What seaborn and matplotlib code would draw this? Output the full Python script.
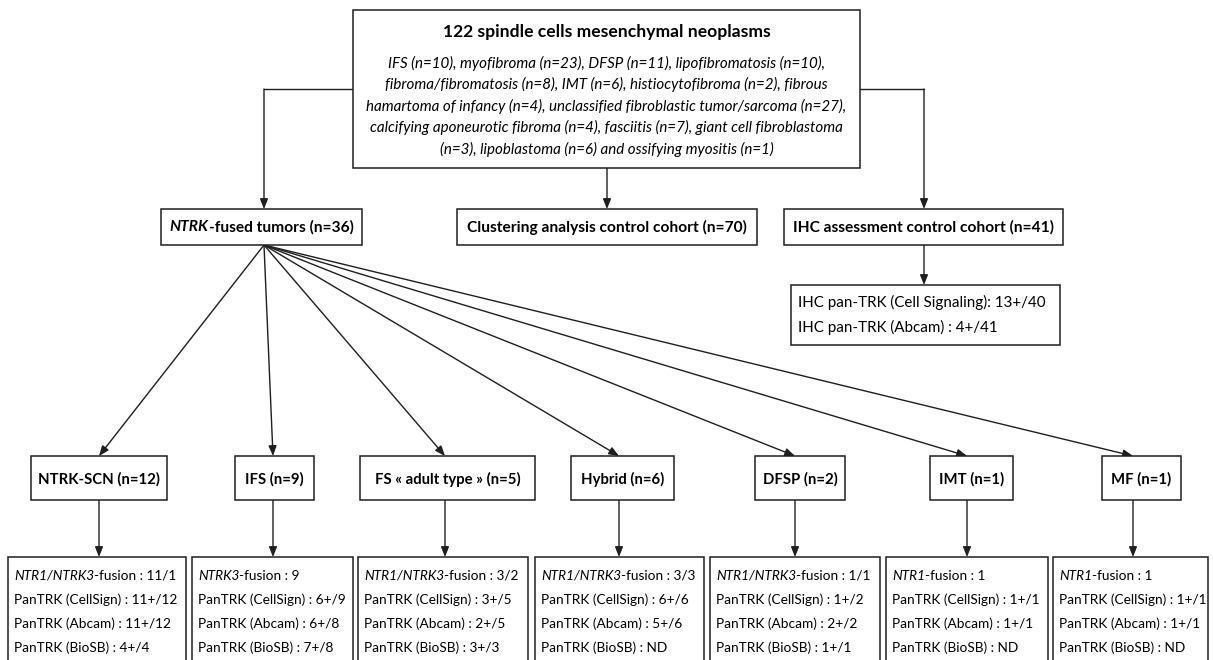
import textwrap
import matplotlib
matplotlib.use("Agg")
import matplotlib.pyplot as plt
from matplotlib.patches import Rectangle
import pandas as pd
import seaborn as sns

# ---- data ----
total_cases = 122
subtype_names = ["IFS", "myofibroma", "DFSP", "lipofibromatosis", "fibroma/fibromatosis",
                 "IMT", "histiocytofibroma", "fibrous hamartoma of infancy",
                 "unclassified fibroblastic tumor/sarcoma", "calcifying aponeurotic fibroma",
                 "fasciitis", "giant cell fibroblastoma", "lipoblastoma", "ossifying myositis"]
subtype_counts = [10, 23, 11, 10, 8, 6, 2, 4, 27, 4, 7, 3, 6, 1]

cohort_labels = ["-fused tumors", "Clustering analysis control cohort", "IHC assessment control cohort"]
cohort_n = [36, 70, 41]

ihc_antibodies = ["Cell Signaling", "Abcam"]
ihc_sep = [":", " :"]
ihc_pos = [13, 4]
ihc_total = [40, 41]

group_names = ["NTRK-SCN", "IFS", "FS \u00ab adult type \u00bb", "Hybrid", "DFSP", "IMT", "MF"]
group_n = [12, 9, 5, 6, 2, 1, 1]
fusion_genes = ["NTR1/NTRK3", "NTRK3", "NTR1/NTRK3", "NTR1/NTRK3", "NTR1/NTRK3", "NTR1", "NTR1"]
fusion_counts = ["11/1", "9", "3/2", "3/3", "1/1", "1", "1"]
cellsign = ["11+/12", "6+/9", "3+/5", "6+/6", "1+/2", "1+/1", "1+/1"]
abcam = ["11+/12", "6+/8", "2+/5", "5+/6", "2+/2", "1+/1", "1+/1"]
biosb = ["4+/4", "7+/8", "3+/3", "ND", "1+/1", "ND", "ND"]

# ---- layout (pixels) ----
W, H = 1213, 660
top_box = (353, 10, 860, 168)
cohort_boxes = [(161, 209, 362, 245), (457, 209, 757, 245), (784, 209, 1063, 245)]
ihc_box = (791, 285, 1060, 345)
group_x = [(31, 167), (235, 314), (360, 535), (571, 674), (755, 845), (930, 1013), (1102, 1181)]
group_y = (456, 500)
arrow_x = [99, 273, 445, 619, 795, 967, 1133]
result_x = [(8, 186), (192, 353), (358, 528), (535, 704), (710, 880), (886, 1048), (1053, 1208)]
result_y0 = 557
fan_origin = (264, 245)
LINE = "#1f1f1f"

sns.set_theme(style="white")
plt.rcParams["font.family"] = ["Lato", "DejaVu Sans"]

fig = plt.figure(figsize=(W / 100, H / 100), dpi=100)
ax = fig.add_axes([0, 0, 1, 1])
ax.set_xlim(0, W)
ax.set_ylim(H, 0)
ax.axis("off")
renderer = fig.canvas.get_renderer()


def box(x0, y0, x1, y1):
    ax.add_patch(Rectangle((x0, y0), x1 - x0, y1 - y0, facecolor="white",
                           edgecolor=LINE, lw=1.1, zorder=2))


def runs(x, y, parts, size, ha="left"):
    # parts: list of (text, style, weight); placed one after another
    items = []
    for s, style, weight in parts:
        t = ax.text(0, y, s, fontsize=size, fontstyle=style, fontweight=weight,
                    va="center", ha="left", color="black", zorder=3)
        items.append((t, t.get_window_extent(renderer).width))
    total = sum(w for _, w in items)
    cur = x - total / 2 if ha == "center" else x
    for t, w in items:
        t.set_x(cur)
        cur += w


def arrow(x0, y0, x1, y1):
    ax.annotate("", xy=(x1, y1), xytext=(x0, y0), zorder=1,
                arrowprops=dict(arrowstyle="-|>,head_length=0.5,head_width=0.2",
                                color=LINE, lw=1.0, shrinkA=0, shrinkB=0))


# elbow connectors from the top box
segs = pd.DataFrame({
    "x": [top_box[0], fan_origin[0], top_box[2], 924],
    "y": [89, 89, 89, 89],
    "seg": ["left", "left", "right", "right"],
})
sns.lineplot(data=segs, x="x", y="y", units="seg", estimator=None, sort=False,
             color=LINE, lw=1.0, ax=ax, legend=False)
arrow(fan_origin[0], 89, fan_origin[0], cohort_boxes[0][1])
arrow(607, top_box[3], 607, cohort_boxes[1][1])
arrow(924, 89, 924, cohort_boxes[2][1])
arrow(924, cohort_boxes[2][3], 924, ihc_box[1])

# top box
box(*top_box)
cx = (top_box[0] + top_box[2]) / 2
runs(cx, 32, [(f"{total_cases} spindle cells mesenchymal neoplasms", "normal", "bold")], 12.6, "center")
items = [f"{n} (n={c})" for n, c in zip(subtype_names, subtype_counts)]
desc = ", ".join(items[:-1]) + " and " + items[-1]
for i, line in enumerate(textwrap.wrap(desc, width=79)):
    runs(cx, 63 + i * 21.5, [(line, "italic", "normal")], 10.9, "center")

# cohort boxes
for i, (b, lab, n) in enumerate(zip(cohort_boxes, cohort_labels, cohort_n)):
    box(*b)
    parts = [(f"{lab} (n={n})", "normal", "bold")]
    if i == 0:
        parts = [("NTRK", "italic", "bold")] + parts
    runs((b[0] + b[2]) / 2, 227, parts, 11.2, "center")

box(*ihc_box)
for i, (ab, sep, p, t) in enumerate(zip(ihc_antibodies, ihc_sep, ihc_pos, ihc_total)):
    runs(ihc_box[0] + 7, 302 + i * 25, [(f"IHC pan-TRK ({ab}){sep} {p}+/{t}", "normal", "normal")], 10.9)

# fan of arrows to subgroups, then subgroup boxes and results
for i in range(len(group_names)):
    arrow(fan_origin[0], fan_origin[1], arrow_x[i], group_y[0])
    gx0, gx1 = group_x[i]
    box(gx0, group_y[0], gx1, group_y[1])
    runs((gx0 + gx1) / 2, 479, [(f"{group_names[i]} (n={group_n[i]})", "normal", "bold")], 10.7, "center")
    arrow(arrow_x[i], group_y[1], arrow_x[i], result_y0)
    rx0, rx1 = result_x[i]
    box(rx0, result_y0, rx1, H + 20)
    lines = [
        [(fusion_genes[i], "italic", "normal"), (f"-fusion : {fusion_counts[i]}", "normal", "normal")],
        [(f"PanTRK (CellSign) : {cellsign[i]}", "normal", "normal")],
        [(f"PanTRK (Abcam) : {abcam[i]}", "normal", "normal")],
        [(f"PanTRK (BioSB) : {biosb[i]}", "normal", "normal")],
    ]
    for j, parts in enumerate(lines):
        runs(rx0 + 6, 576 + j * 24, parts, 9.8)

fig.savefig("out.png", dpi=100, facecolor="white")
